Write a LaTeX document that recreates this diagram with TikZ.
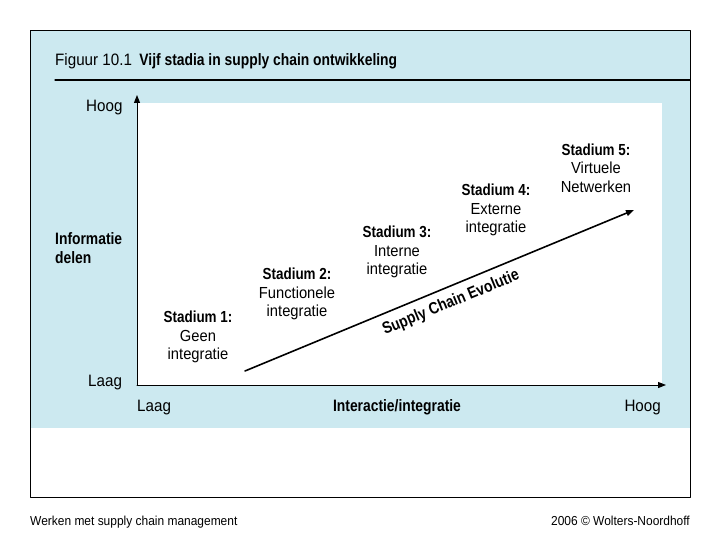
\documentclass[tikz,border=0pt]{standalone}
\usepackage{fontspec}
\setmainfont{Liberation Sans}[FakeStretch=0.92, BoldFeatures={FakeStretch=0.84}]
\usepackage{tikz}
\usetikzlibrary{arrows.meta, positioning}
\definecolor{lichtblauw}{RGB}{204, 233, 240}

\tikzset{
  stadium/.style={align=center, inner sep=0pt, font=\fontsize{16}{18.5}\selectfont},
  aslabel/.style={inner sep=0pt, font=\fontsize{16.5}{18.5}\selectfont},
  voet/.style={inner sep=0pt, font=\fontsize{13}{15}\selectfont}
}

\begin{document}
\begin{tikzpicture}[x=1pt, y=-1pt, line cap=round, line join=round, >={Triangle[length=8pt,width=6pt]}]
    	\useasboundingbox (0,0) rectangle (720,540);
    	\fill [white] (0,0) rectangle (720,540);

    	\coordinate (O) at (137,385);
    	\coordinate (Ytop) at (137,95);
    	\coordinate (Xend) at (666,385);
    	\coordinate (S) at (245,371);
    	\coordinate (E) at (634,210);

		\fill [lichtblauw] (30,30) rectangle (690,428);
		\fill [white] (O) rectangle (662,103);
		\draw [black,line width=0.8pt] (30,30) rectangle (690,497);
		\draw [black,line width=1.2pt] (55,80)--(690,80);

		\node [aslabel, anchor=base west, font=\fontsize{16.5}{18}\selectfont] (titel) at (55,66) {Figuur 10.1\hspace{0.45em}\textbf{Vijf stadia in supply chain ontwikkeling}};

		\draw [->,black,line width=1pt] (O)--(Ytop);
		\draw [->,black,line width=1pt] (O)--(Xend);

		\node [aslabel, anchor=base west] (yhoog) at (86,112) {Hoog};
		\node [aslabel, anchor=base west] (ylaag) at (88,386) {Laag};
		\node [aslabel, anchor=west, align=left] (yas) at (55,248) {\textbf{Informatie}\\\textbf{delen}};
		\node [aslabel, anchor=base west] (xlaag) at (137,411) {Laag};
		\node [aslabel, anchor=base] (xas) at (397,411) {\textbf{Interactie/integratie}};
		\node [aslabel, anchor=base east] (xhoog) at (661,411) {Hoog};

		\draw [->,black,line width=1.6pt] (S)--(E);
		\node [aslabel, rotate=22.5] (evolutie) at (451,303) {\textbf{Supply Chain Evolutie}};

		\node [stadium] (st1) at (198,337) {\textbf{Stadium 1:}\\Geen\\integratie};
		\node [stadium] (st2) at (297,294) {\textbf{Stadium 2:}\\Functionele\\integratie};
		\node [stadium] (st3) at (397,252) {\textbf{Stadium 3:}\\Interne\\integratie};
		\node [stadium] (st4) at (496,210) {\textbf{Stadium 4:}\\Externe\\integratie};
		\node [stadium] (st5) at (596,168) {\textbf{Stadium 5:}\\Virtuele\\Netwerken};

		\node [voet, anchor=base west] (boek) at (30,525) {Werken met supply chain management};
		\node [voet, anchor=base east] (uitgever) at (690,525) {2006 © Wolters-Noordhoff};
    \end{tikzpicture}
\end{document}
